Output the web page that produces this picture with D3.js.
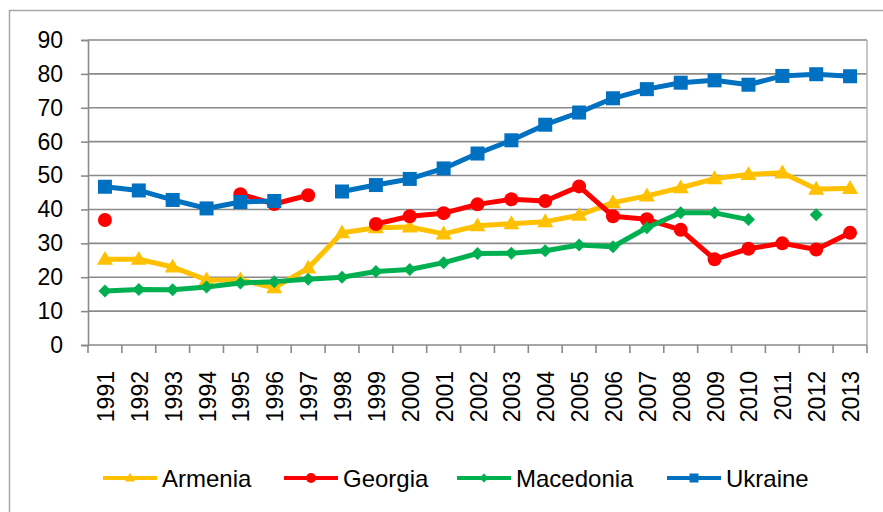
<!DOCTYPE html>
<html>
<head>
<meta charset="utf-8">
<script src="https://cdn.jsdelivr.net/npm/d3@7"></script>
<style>
  html, body { margin: 0; padding: 0; background: #fff; }
  svg { display: block; font-family: "Liberation Sans", Arial, sans-serif; }
</style>
</head>
<body>
<svg id="chart" width="883" height="512"></svg>
<script>
const years = ["1991","1992","1993","1994","1995","1996","1997","1998","1999","2000","2001","2002","2003","2004","2005","2006","2007","2008","2009","2010","2011","2012","2013"];
const yTicks = [0,10,20,30,40,50,60,70,80,90];

const armenia   = [25.3,25.3,23.0,19.2,19.2,16.9,22.7,33.1,34.6,34.8,32.8,35.2,35.8,36.4,38.3,42.0,44.0,46.4,49.1,50.3,50.8,46.0,46.2];
const georgia   = [36.9,null,null,null,44.5,41.6,44.2,null,35.7,38.0,38.9,41.5,43.0,42.5,46.8,38.0,37.1,34.0,25.3,28.4,30.0,28.2,33.1];
const macedonia = [15.9,16.4,16.3,17.1,18.3,18.7,19.4,20.0,21.7,22.3,24.3,27.0,27.1,27.8,29.5,29.0,34.6,39.0,39.0,37.0,null,38.4,null];
const ukraine   = [46.7,45.6,42.8,40.3,42.2,42.5,null,45.3,47.2,49.0,52.1,56.5,60.4,65.0,68.6,72.8,75.5,77.4,78.1,76.8,79.4,79.9,79.3];

const seriesNames = ["Armenia","Georgia","Macedonia","Ukraine"];
const seriesColors = ["#FFC000","#FF0000","#00B050","#0070C0"];
const seriesShapes = ["triangle","circle","diamond","square"];
const seriesData = [armenia, georgia, macedonia, ukraine];

const svg = d3.select("#chart");

// outer chart border
svg.append("rect").attr("x", 9.5).attr("y", 10.5).attr("width", 900).attr("height", 520)
  .attr("fill", "none").attr("stroke", "#a6a6a6").attr("stroke-width", 1.5);

const x = d3.scaleBand().domain(years).range([88, 867]).padding(0);
const y = d3.scaleLinear().domain([0, 90]).range([345, 40]);

// gridlines
svg.append("g").selectAll("line").data(yTicks.filter(t => t > 0)).join("line")
  .attr("x1", 88).attr("x2", 867)
  .attr("y1", d => y(d)).attr("y2", d => y(d))
  .attr("stroke", "#8a8a8a").attr("stroke-width", 1.6);

// right plot border
svg.append("line").attr("x1", 867).attr("x2", 867).attr("y1", y(90)).attr("y2", y(0))
  .attr("stroke", "#b8b8b8").attr("stroke-width", 1.6);

// y axis
const yAxis = d3.axisLeft(y).tickValues(yTicks).tickSize(7).tickPadding(18).tickFormat(d3.format("d"));
const gy = svg.append("g").attr("transform", "translate(88,0)").call(yAxis);
gy.select(".domain").attr("stroke", "#8a8a8a").attr("stroke-width", 1.6);
gy.selectAll(".tick line").attr("stroke", "#8a8a8a").attr("stroke-width", 1.6);
gy.selectAll(".tick text").attr("font-size", 23).attr("fill", "#000")
  .attr("font-family", "Liberation Sans, Arial, sans-serif");

// x axis baseline & ticks at category boundaries
const boundaries = years.map(yr => x(yr)).concat([x(years[years.length-1]) + x.bandwidth()]);
svg.append("line").attr("x1", 88).attr("x2", 867).attr("y1", y(0)).attr("y2", y(0))
  .attr("stroke", "#8a8a8a").attr("stroke-width", 1.6);
svg.append("g").selectAll("line").data(boundaries).join("line")
  .attr("x1", d => d).attr("x2", d => d).attr("y1", y(0)).attr("y2", y(0) + 8)
  .attr("stroke", "#8a8a8a").attr("stroke-width", 1.6);

// x labels rotated
svg.append("g").selectAll("text").data(years).join("text")
  .attr("transform", d => `translate(${x(d) + x.bandwidth()/2 + 1},371) rotate(-90)`)
  .attr("text-anchor", "end").attr("dominant-baseline", "central")
  .attr("font-size", 23).attr("fill", "#000").text(d => d);

// marker path generator
function markerPath(shape, s) {
  if (shape === "square") return `M${-s},${-s}H${s}V${s}H${-s}Z`;
  if (shape === "diamond") return `M0,${-s}L${s},0L0,${s}L${-s},0Z`;
  if (shape === "triangle") { const h = s * 1.732; return `M0,${-h*0.6}L${s},${h*0.4}L${-s},${h*0.4}Z`; }
  return d3.arc()({innerRadius: 0, outerRadius: s, startAngle: 0, endAngle: 2*Math.PI});
}
const markerSize = {square: 7, circle: 7, diamond: 6.5, triangle: 8};
const legendMarkerSize = {square: 4.5, circle: 5, diamond: 4.5, triangle: 5};

const line = d3.line()
  .defined(d => d.v != null)
  .x(d => x(d.year) + x.bandwidth()/2)
  .y(d => y(d.v));

seriesData.forEach((vals, i) => {
  const pts = years.map((yr, j) => ({year: yr, v: vals[j]}));
  const g = svg.append("g");
  g.append("path").datum(pts).attr("d", line)
    .attr("fill", "none").attr("stroke", seriesColors[i]).attr("stroke-width", 5)
    .attr("stroke-linejoin", "round").attr("stroke-linecap", "round");
  g.selectAll("path.m").data(pts.filter(p => p.v != null)).join("path")
    .attr("class", "m")
    .attr("transform", p => `translate(${x(p.year) + x.bandwidth()/2},${y(p.v)})`)
    .attr("d", markerPath(seriesShapes[i], markerSize[seriesShapes[i]]))
    .attr("fill", seriesColors[i]);
});

// legend
const legendX = [103, 284, 457, 667];
const legendY = 478;
seriesNames.forEach((name, i) => {
  const g = svg.append("g").attr("transform", `translate(${legendX[i]},${legendY})`);
  g.append("line").attr("x1", 0).attr("x2", 54).attr("y1", 0).attr("y2", 0)
    .attr("stroke", seriesColors[i]).attr("stroke-width", 4);
  g.append("path").attr("transform", "translate(27,0)")
    .attr("d", markerPath(seriesShapes[i], legendMarkerSize[seriesShapes[i]]))
    .attr("fill", seriesColors[i]);
  g.append("text").attr("x", 59).attr("y", 0).attr("dominant-baseline", "central")
    .attr("font-size", 24).attr("fill", "#000").text(name);
});
</script>
</body>
</html>
